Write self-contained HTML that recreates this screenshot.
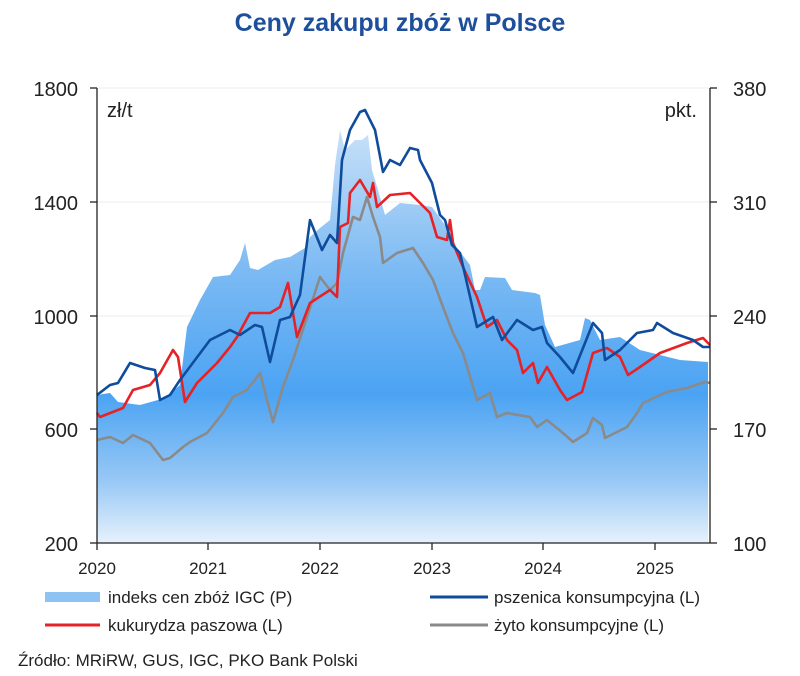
<!DOCTYPE html>
<html><head><meta charset="utf-8"><style>
html,body{margin:0;padding:0;background:#fff;}
svg{display:block;font-family:"Liberation Sans",sans-serif;}
</style></head><body>
<svg width="800" height="676" viewBox="0 0 800 676" xmlns="http://www.w3.org/2000/svg">
<defs>
<linearGradient id="g" x1="0" y1="130" x2="0" y2="543" gradientUnits="userSpaceOnUse">
<stop offset="0" stop-color="#c7e0f8"/>
<stop offset="0.35" stop-color="#7ab9f3"/>
<stop offset="0.64" stop-color="#4ba3f3"/>
<stop offset="0.85" stop-color="#98c8f5"/>
<stop offset="1" stop-color="#e6f1fc"/>
</linearGradient>
</defs>
<text x="400" y="31" text-anchor="middle" font-size="25" font-weight="bold" fill="#1d4f9c">Ceny zakupu zbóż w Polsce</text>
<line x1="97" y1="202" x2="710" y2="202" stroke="#eeeeee"/>
<line x1="97" y1="316" x2="710" y2="316" stroke="#eeeeee"/>
<line x1="97" y1="429" x2="710" y2="429" stroke="#eeeeee"/>
<line x1="97" y1="88" x2="710" y2="88" stroke="#eeeeee"/>
<polygon fill="url(#g)" points="97,543 97,395 110,393 118,402 140,405 165,398 180,385 187,327 200,300 213,277 230,275 240,260 245,243 250,268 258,270 275,260 290,257 305,248 310,237 320,228 330,220 335,165 340,130 345,150 355,140 362,140 368,135 372,170 378,190 385,215 400,203 420,205 432,207 445,225 455,245 470,265 475,290 480,290 485,277 505,278 512,290 535,293 540,295 545,325 555,347 580,340 585,318 590,320 600,340 620,337 640,350 660,355 680,360 708,362 708,543"/>
<polyline fill="none" stroke="#8a8a8a" stroke-width="2.6" stroke-linejoin="round" points="97,440 110,437 123,443 133,435 150,443 163,460 170,458 183,447 190,442 207,433 223,413 233,397 247,390 260,373 267,400 273,422 283,387 293,360 307,317 320,277 330,290 337,283 343,253 353,217 360,220 367,197 373,217 380,237 383,263 397,253 413,248 423,263 433,280 443,307 453,333 463,353 477,400 490,393 497,417 507,413 530,417 537,427 547,420 563,433 573,442 587,433 593,418 602,425 605,438 627,427 637,413 643,403 667,392 687,388 705,382 710,383"/>
<polyline fill="none" stroke="#e52226" stroke-width="2.6" stroke-linejoin="round" points="97,413 100,417 123,408 133,390 150,385 160,373 173,350 178,357 185,402 197,383 217,363 230,347 237,337 250,313 270,313 280,307 288,283 297,337 310,303 330,290 337,297 340,227 348,223 350,193 360,180 370,197 373,183 377,207 390,195 410,193 420,203 430,213 437,237 447,240 450,220 453,243 463,267 477,297 487,327 497,320 507,340 517,350 523,373 533,363 538,383 547,367 560,390 567,400 582,392 593,353 607,348 620,357 628,375 640,367 660,353 687,343 703,338 710,345"/>
<polyline fill="none" stroke="#0f4c9c" stroke-width="2.6" stroke-linejoin="round" points="97,395 110,385 118,383 130,363 145,368 155,370 160,400 170,395 180,380 195,360 210,340 230,330 240,335 255,325 262,327 270,362 280,320 290,317 300,295 310,220 318,240 322,250 330,235 337,243 342,160 350,130 360,112 365,110 375,130 383,172 390,160 400,165 410,148 418,150 420,160 432,183 440,215 445,220 452,245 460,253 477,327 493,317 502,340 517,320 533,330 542,327 547,343 560,357 573,373 593,323 602,333 605,360 620,350 637,333 653,330 657,323 673,333 693,340 703,347 710,347"/>
<line x1="97" y1="88" x2="97" y2="543" stroke="#222" stroke-width="1.3"/>
<line x1="710" y1="88" x2="710" y2="543" stroke="#222" stroke-width="1.3"/>
<line x1="97" y1="543" x2="710" y2="543" stroke="#222" stroke-width="1.3"/>
<g stroke="#222" stroke-width="1.3">
<line x1="90" y1="88" x2="97" y2="88"/><line x1="90" y1="202" x2="97" y2="202"/><line x1="90" y1="316" x2="97" y2="316"/><line x1="90" y1="429" x2="97" y2="429"/><line x1="90" y1="543" x2="97" y2="543"/>
<line x1="710" y1="88" x2="717" y2="88"/><line x1="710" y1="202" x2="717" y2="202"/><line x1="710" y1="316" x2="717" y2="316"/><line x1="710" y1="429" x2="717" y2="429"/><line x1="710" y1="543" x2="717" y2="543"/>
<line x1="97" y1="543" x2="97" y2="550"/><line x1="208" y1="543" x2="208" y2="550"/><line x1="320" y1="543" x2="320" y2="550"/><line x1="432" y1="543" x2="432" y2="550"/><line x1="543" y1="543" x2="543" y2="550"/><line x1="655" y1="543" x2="655" y2="550"/>
</g>
<g font-size="20" fill="#222">
<text x="78" y="96" text-anchor="end">1800</text>
<text x="78" y="210" text-anchor="end">1400</text>
<text x="78" y="324" text-anchor="end">1000</text>
<text x="78" y="437" text-anchor="end">600</text>
<text x="78" y="551" text-anchor="end">200</text>
<text x="733" y="96">380</text>
<text x="733" y="210">310</text>
<text x="733" y="324">240</text>
<text x="733" y="437">170</text>
<text x="733" y="551">100</text>
<text x="107" y="117">zł/t</text>
<text x="697" y="117" text-anchor="end">pkt.</text>
</g>
<g font-size="17" fill="#222" text-anchor="middle">
<text x="97" y="574">2020</text><text x="208" y="574">2021</text><text x="320" y="574">2022</text><text x="432" y="574">2023</text><text x="543" y="574">2024</text><text x="655" y="574">2025</text>
</g>
<rect x="45" y="592" width="55" height="10" fill="#8cc3f3"/>
<line x1="430" y1="597" x2="488" y2="597" stroke="#0f4c9c" stroke-width="3"/>
<line x1="45" y1="625" x2="100" y2="625" stroke="#e52226" stroke-width="3"/>
<line x1="430" y1="625" x2="488" y2="625" stroke="#8a8a8a" stroke-width="3"/>
<g font-size="17" fill="#222">
<text x="108" y="603">indeks cen zbóż IGC (P)</text>
<text x="494" y="603">pszenica konsumpcyjna (L)</text>
<text x="108" y="631">kukurydza paszowa (L)</text>
<text x="494" y="631">żyto konsumpcyjne (L)</text>
<text x="18" y="666">Źródło: MRiRW, GUS, IGC, PKO Bank Polski</text>
</g>
</svg>
</body></html>
